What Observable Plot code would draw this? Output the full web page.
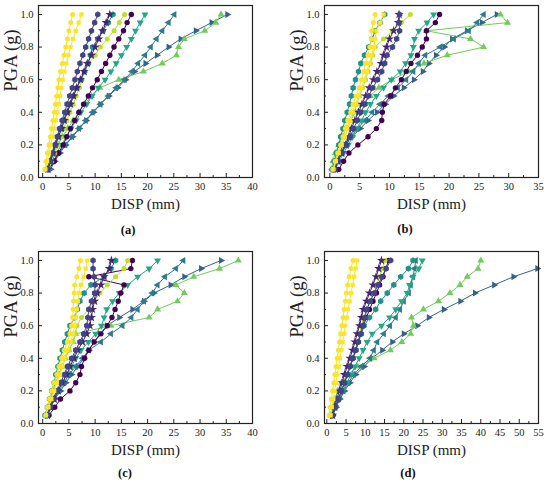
<!DOCTYPE html>
<html><head><meta charset="utf-8">
<script src="https://cdn.jsdelivr.net/npm/d3@7"></script>
<script src="https://cdn.jsdelivr.net/npm/@observablehq/plot@0.6"></script>
<style>
body{margin:0;background:#fff;}
#fig{position:relative;width:550px;height:486px;overflow:hidden;background:#fff;font-family:"Liberation Serif","DejaVu Serif",serif;}
svg text{font-family:"Liberation Serif","DejaVu Serif",serif !important;}
.panel{position:absolute;}
.cap{position:absolute;font-weight:bold;font-size:12.5px;transform:translate(-50%,-50%);color:#111;white-space:nowrap;}
</style></head><body><div id="fig"></div>
<script>
// PGA levels (g)
const PGA = [0.05,0.10,0.15,0.20,0.25,0.30,0.35,0.40,0.45,0.50,0.55,0.60,0.65,0.70,0.75,0.80,0.85,0.90,0.95,1.00];
const yTicks = [0.0,0.2,0.4,0.6,0.8,1.0];
const xTicks40 = [0,5,10,15,20,25,30,35,40];
const xTicks35 = [0,5,10,15,20,25,30,35];
const xTicks55 = [0,5,10,15,20,25,30,35,40,45,50,55];

// series order and colours
const seriesKeys = ["RT","UT","LT","DT","DP","YG","TE","PS","BP","Y2","Y1"];
const seriesColors = {RT:"#33638d",UT:"#6ece58",LT:"#2c7b8e",DT:"#22a884",DP:"#440154",YG:"#bddf26",TE:"#21918c",PS:"#482475",BP:"#414487",Y2:"#fde725",Y1:"#f8e42c"};

// ---- panel (a) DISP (mm)
const aY1 = [0.4,0.65,0.9,1.2,1.45,1.7,1.95,2.2,2.45,2.65,2.9,3.1,3.4,3.75,4.05,4.4,4.7,5.0,5.35,5.7];
const aY2 = [0.5,0.85,1.2,1.5,1.85,2.15,2.5,2.8,3.05,3.3,3.55,3.8,4.15,4.5,4.9,5.3,5.8,6.3,6.85,7.4];
const aBP = [1.0,1.35,1.8,2.3,2.75,3.2,3.7,4.2,4.65,5.15,5.65,6.15,6.6,7.1,7.65,8.2,8.75,9.3,9.9,10.5];
const aPS = [1.0,1.5,2.0,2.4,3.0,3.6,4.1,4.7,5.3,5.9,6.5,7.2,7.9,8.5,9.3,10.0,10.7,11.4,12.1,12.8];
const aTE = [1.0,1.5,2.0,2.5,3.0,3.6,4.1,4.7,5.2,5.8,6.5,7.3,8.0,8.7,9.1,9.5,10.5,11.5,12.5,13.4];
const aYG = [1.2,1.7,2.3,2.9,3.4,4.0,4.6,5.2,5.8,6.4,7.0,7.5,7.9,8.8,10.0,11.0,12.3,13.6,14.6,15.6];
const aDP = [1.2,2.2,3.0,3.9,4.6,5.3,6.1,6.9,7.8,8.7,9.5,10.4,11.2,12.0,12.8,13.6,14.5,15.4,16.1,16.9];
const aDT = [1.0,1.6,2.6,3.6,4.5,5.4,6.4,7.3,8.4,9.4,10.6,11.9,13.0,14.0,15.0,16.0,16.9,17.7,18.6,19.5];
const aLT = [1.0,2.0,3.0,4.3,5.6,6.9,8.2,9.5,11.0,12.5,14.0,15.6,17.0,18.2,19.5,20.6,21.7,22.8,24.0,25.1];
const aUT = [0.8,1.3,2.0,2.9,3.8,4.8,5.8,6.9,8.0,9.3,10.9,14.5,19.2,22.8,25.5,25.9,27.0,30.9,33.0,34.0];
const aRT = [1.5,2.3,3.3,4.4,5.7,7.0,8.3,9.7,11.0,12.6,14.3,15.8,17.5,19.6,21.8,24.0,26.3,29.2,32.2,35.2];

// ---- panel (b)
const bY1 = [0.5,0.9,1.3,1.8,2.2,2.6,3.0,3.5,3.9,4.4,4.9,5.3,5.7,6.0,6.4,6.7,7.0,7.0,7.3,7.6];
const bY2 = [0.6,1.0,1.5,2.0,2.5,2.9,3.4,3.8,4.3,4.8,5.3,5.8,6.2,6.6,7.0,7.4,7.6,7.8,8.4,9.0];
const bTE = [0.4,0.8,1.1,1.5,1.8,2.2,2.5,2.9,3.3,3.6,3.9,4.3,4.8,5.2,5.8,6.5,7.1,7.6,8.4,9.2];
const bBP = [0.8,1.3,2.0,2.8,3.4,4.0,4.6,5.2,5.9,6.5,7.2,8.0,8.7,9.2,9.6,10.5,11.2,11.7,11.6,11.7];
const bPS = [0.9,1.4,2.0,2.6,3.2,3.6,4.2,4.8,5.4,6.0,6.6,7.3,7.9,8.6,9.0,9.5,10.0,10.7,11.5,11.6];
const bYG = [0.6,1.0,1.5,2.0,2.5,3.0,3.5,4.0,4.5,5.0,5.5,6.0,6.4,6.8,7.2,7.6,9.0,10.5,12.0,13.5];
const bDP = [1.5,2.3,3.2,4.7,6.4,7.8,8.7,8.8,9.1,10.2,11.0,12.0,12.8,13.6,14.7,15.5,16.2,16.2,17.7,18.4];
const bDT = [0.9,1.6,2.3,3.1,3.8,4.5,5.3,6.0,6.8,7.8,9.0,10.3,11.8,12.7,13.6,14.0,14.2,14.9,16.3,17.4];
const bLT = [0.4,0.8,1.5,2.3,3.5,4.6,5.9,7.1,8.4,9.8,11.4,12.8,14.0,14.9,16.0,18.5,20.8,23.3,24.7,25.8];
const bUT = [0.3,0.5,0.9,1.5,2.1,2.7,3.5,4.3,5.4,6.8,8.2,10.4,13.2,15.8,19.7,25.8,23.6,16.2,29.8,28.6];
const bRT = [0.5,1.1,1.8,2.6,3.7,5.1,6.4,7.9,9.3,10.7,12.4,14.1,15.6,16.6,17.8,19.2,20.5,23.0,25.5,28.0];

// ---- panel (c)
const cY1 = [0.6,0.9,1.3,1.7,2.2,2.7,3.1,3.6,4.1,4.7,5.2,5.5,5.7,5.8,5.9,6.0,6.1,6.5,6.9,7.2];
const cY2 = [0.6,1.1,1.65,2.2,2.7,3.3,3.75,4.2,4.7,5.3,5.8,6.1,6.3,6.5,6.7,6.9,7.3,7.8,8.2,8.5];
const cBP = [0.9,1.4,2.0,2.7,3.4,4.1,4.7,5.5,6.3,7.1,7.8,8.4,8.6,8.8,9.3,9.9,10.0,9.8,9.6,9.6];
const cPS = [0.9,1.5,2.2,2.9,3.75,4.6,5.2,6.0,6.7,7.6,8.4,9.0,9.3,9.5,9.9,10.4,11.1,11.7,12.7,13.1];
const cTE = [0.45,0.9,1.3,1.7,2.2,2.5,2.9,3.3,3.75,4.2,4.7,5.2,6.1,6.6,7.1,7.9,9.2,11.7,13.0,13.9];
const cYG = [0.6,1.0,1.5,2.0,2.5,3.1,3.7,4.3,5.0,5.7,6.2,6.5,7.4,8.7,9.8,10.9,12.3,13.9,15.5,16.2];
const cDP = [1.2,2.3,3.4,5.2,6.3,7.1,7.4,8.0,8.8,9.8,11.1,12.3,13.2,13.8,14.4,14.9,15.5,8.8,16.8,17.1];
const cDT = [0.8,1.4,2.0,2.8,3.75,4.6,5.5,6.3,7.3,8.7,10.1,11.2,11.7,12.2,13.3,14.6,16.2,18.1,20.3,21.9];
const cLT = [0.9,1.5,2.2,3.1,4.1,5.0,6.3,7.6,8.8,11.1,13.0,15.2,16.9,18.1,19.3,20.9,21.9,23.3,25.4,26.8];
const cUT = [0.6,1.0,1.5,2.0,2.5,3.1,3.7,4.3,5.0,5.8,6.3,13.0,20.3,21.9,25.7,27.0,25.4,28.8,33.7,37.3];
const cRT = [0.9,1.5,2.3,3.4,4.4,5.5,6.7,7.8,8.8,9.8,10.9,12.3,14.6,17.1,19.3,21.2,24.4,27.0,30.2,34.0];

// ---- panel (d)
const dY1 = [0.6,0.9,1.2,1.5,1.8,2.1,2.4,2.7,3.0,3.3,3.6,3.9,4.2,4.5,4.8,5.1,5.4,5.8,6.3,6.8];
const dY2 = [1.0,1.3,1.7,2.0,2.4,2.7,3.1,3.4,3.8,4.1,4.5,4.8,5.2,5.5,5.9,6.3,6.7,7.1,7.5,7.9];
const dPS = [1.5,2.0,2.6,3.3,4.0,4.6,5.3,6.0,6.7,7.3,7.9,8.5,9.0,9.5,10.3,11.1,12.0,12.8,13.5,14.2];
const dYG = [1.2,1.8,2.6,3.5,4.3,5.1,5.9,6.6,7.3,7.9,8.5,9.0,9.6,10.3,11.2,12.2,13.0,13.7,14.4,15.1];
const dDP = [1.6,2.2,3.0,3.8,4.6,5.3,6.0,6.7,7.4,8.1,8.8,9.5,10.3,11.1,12.0,12.9,13.7,14.6,15.3,16.1];
const dBP = [1.5,2.2,3.0,3.8,4.6,5.4,6.1,6.8,7.5,8.2,8.8,9.4,9.9,10.4,11.3,12.3,13.3,14.3,15.4,16.6];
const dTE = [1.4,2.2,3.0,3.8,4.6,5.3,6.0,6.8,7.6,8.2,9.0,9.7,11.1,12.7,14.0,15.7,17.4,19.2,21.2,22.4];
const dDT = [1.3,2.2,3.2,4.2,5.2,6.3,7.3,8.4,9.4,10.5,11.8,14.2,16.3,17.9,19.4,20.9,21.5,22.4,23.9,24.8];
const dLT = [1.3,2.2,3.2,4.3,5.6,7.0,9.0,11.2,12.2,13.1,14.8,16.4,17.9,19.0,20.0,21.3,21.8,22.4,22.8,23.1];
const dUT = [0.9,1.5,2.1,2.8,3.8,5.5,8.0,12.3,16.5,19.5,21.8,22.5,22.0,25.1,29.0,32.0,34.6,36.5,39.3,40.0];
const dRT = [1.5,2.4,3.4,4.6,6.0,7.5,9.7,11.8,14.4,17.0,20.0,23.5,26.5,30.4,34.7,38.5,43.5,48.5,54.7];

// custom triangle symbols (rotated)
function triSymbol(angleDeg){
  const a0 = angleDeg*Math.PI/180;
  return {draw(ctx, size){
    const R = Math.sqrt(size/(3*Math.sqrt(3)/4));
    for (let k=0;k<3;k++){
      const a = a0 + k*2*Math.PI/3;
      const px = R*Math.cos(a), py = R*Math.sin(a);
      if (k===0) ctx.moveTo(px,py); else ctx.lineTo(px,py);
    }
    ctx.closePath();
  }};
}
const seriesSymbols = {RT:triSymbol(0),UT:triSymbol(-90),LT:triSymbol(180),DT:triSymbol(90),DP:"circle",YG:"circle",TE:"hexagon",PS:"star",BP:"hexagon",Y2:"square",Y1:"circle"};
const seriesR = {RT:2.6,UT:2.6,LT:2.6,DT:2.6,DP:2.7,YG:2.5,TE:2.7,PS:2.9,BP:2.7,Y2:2.4,Y1:2.5};

const panels = [
  {cap:"a", left:0,   top:0,   ml:38, mr:23, xdom:[-0.8,40], xt:xTicks40, xmax:40, capx:128, capy:230,
   d:{Y1:aY1,Y2:aY2,BP:aBP,PS:aPS,TE:aTE,YG:aYG,DP:aDP,DT:aDT,LT:aLT,UT:aUT,RT:aRT}},
  {cap:"b", left:275, top:0,   ml:49, mr:12, xdom:[-0.9,35], xt:xTicks35, xmax:35, capx:405, capy:229,
   d:{Y1:bY1,Y2:bY2,BP:bBP,PS:bPS,TE:bTE,YG:bYG,DP:bDP,DT:bDT,LT:bLT,UT:bUT,RT:bRT}},
  {cap:"c", left:0,   top:246, ml:38, mr:23, xdom:[-0.8,40], xt:xTicks40, xmax:40, capx:125, capy:473,
   d:{Y1:cY1,Y2:cY2,BP:cBP,PS:cPS,TE:cTE,YG:cYG,DP:cDP,DT:cDT,LT:cLT,UT:cUT,RT:cRT}},
  {cap:"d", left:275, top:246, ml:49, mr:12, xdom:[-0.6,55], xt:xTicks55, xmax:55, capx:408, capy:473,
   d:{Y1:dY1,Y2:dY2,BP:dBP,PS:dPS,TE:dTE,YG:dYG,DP:dDP,DT:dDT,LT:dLT,UT:dUT,RT:dRT}}
];

const fig = document.getElementById("fig");
const H = 222, MT = 5, MB = H - 177;
const SERIF = "Liberation Serif, DejaVu Serif, serif";
for (const p of panels){
  const marks = [];
  for (const k of seriesKeys){
    const vals = p.d[k];
    const rows = vals.map((v,i)=>({disp:v, pga:PGA[i]}));
    marks.push(Plot.line(rows,{x:"disp",y:"pga",stroke:seriesColors[k],strokeWidth:1}));
    marks.push(Plot.dot(rows,{x:"disp",y:"pga",fill:seriesColors[k],symbol:seriesSymbols[k],r:seriesR[k],stroke:"none"}));
  }
  const minorX = d3.range(2.5, p.xmax, 5);
  const minorY = [0.1,0.3,0.5,0.7,0.9];
  const svg = Plot.plot({
    width:275, height:H,
    marginLeft:p.ml, marginRight:p.mr, marginTop:MT, marginBottom:MB,
    x:{domain:p.xdom},
    y:{domain:[0,1.055]},
    style:{fontFamily:SERIF, fontSize:"10.5px", background:"white", color:"#222", overflow:"visible"},
    marks:[
      ...marks,
      Plot.frame({stroke:"#222", strokeWidth:1.2}),
      Plot.axisX({ticks:p.xt, tickSize:-4, tickPadding:9, tickFormat:d3.format("d"), label:null, fontSize:10.5, fontFamily:SERIF}),
      Plot.axisX({ticks:minorX, tickSize:-2, tickPadding:0, tickFormat:()=>"", label:null}),
      Plot.axisY({ticks:yTicks, tickSize:-4, tickPadding:9, tickFormat:d3.format(".1f"), label:null, fontSize:10.5, fontFamily:SERIF}),
      Plot.axisY({ticks:minorY, tickSize:-2, tickPadding:0, tickFormat:()=>"", label:null}),
      Plot.text(["DISP (mm)"],{frameAnchor:"bottom", dy:31, fontSize:15, fill:"#222", fontFamily:SERIF}),
      Plot.text(["PGA (g)"],{frameAnchor:"left", dx:-27, rotate:-90, fontSize:18.5, fill:"#222", fontFamily:SERIF})
    ]
  });
  svg.style.fontFamily = SERIF;
  const div = document.createElement("div");
  div.className = "panel";
  div.style.left = p.left+"px"; div.style.top = p.top+"px";
  div.appendChild(svg);
  fig.appendChild(div);
  const cap = document.createElement("div");
  cap.className = "cap";
  cap.style.left = p.capx+"px"; cap.style.top = p.capy+"px";
  cap.innerHTML = "(<b>"+p.cap+"</b>)";
  fig.appendChild(cap);
}
</script></body></html>
